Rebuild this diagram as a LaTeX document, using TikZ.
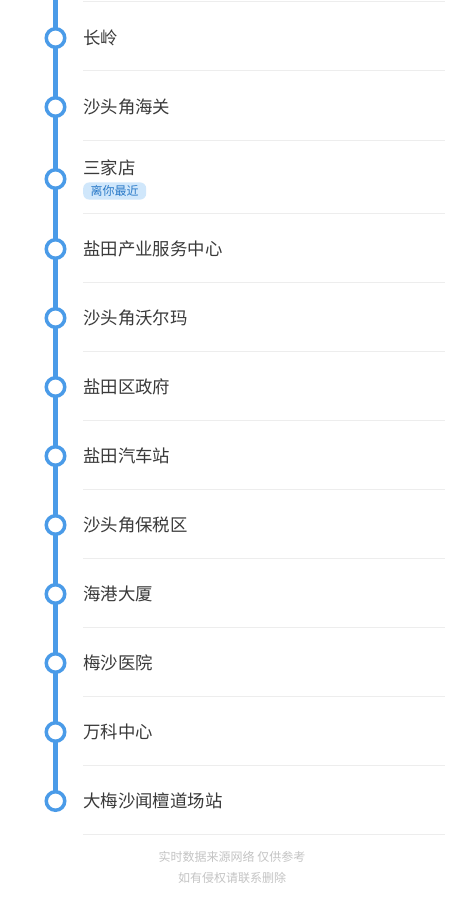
\documentclass[tikz,border=0pt]{standalone}
\usepackage{fontspec}
\newfontfamily\cjk{Noto Sans CJK SC}
\definecolor{lineblue}{HTML}{4A9BE8}
\definecolor{sepgray}{HTML}{EDEDED}
\definecolor{txtgray}{HTML}{3A3A3A}
\definecolor{badgebg}{HTML}{D0E7FB}
\definecolor{badgetxt}{HTML}{2A7AC8}
\definecolor{footgray}{HTML}{C4C4C4}
\begin{document}
\begin{tikzpicture}[x=1pt,y=-1pt,
  stopdot/.style={circle,draw=lineblue,line width=3.5pt,fill=white,minimum size=18.5pt,inner sep=0pt},
  stname/.style={anchor=west,inner sep=0pt,font=\cjk\fontsize{17.4}{17.4}\selectfont,text=txtgray},
  sepline/.style={draw=sepgray,line width=1pt},
  badgebox/.style={anchor=west,fill=badgebg,rounded corners=6pt,inner xsep=7.5pt,inner ysep=3pt,font=\cjk\fontsize{12}{12}\selectfont,text=badgetxt},
  foottext/.style={font=\cjk\fontsize{12}{12}\selectfont,text=footgray,inner sep=0pt}]
\useasboundingbox[fill=white] (0,0) rectangle (463,900);
\coordinate (top) at (55.5,0);
% separators
\foreach \y in {1,70,140,213,282,351,420,489,558,627,696,765,834}
  \draw[sepline] (83,\y) -- (445,\y);
\coordinate (s12) at (55.5,801);
\draw[lineblue,line width=4.5pt] (top) -- (s12);
% stops
\foreach \i/\y/\t in {1/38/长岭,2/107/沙头角海关,4/249/盐田产业服务中心,5/318/沙头角沃尔玛,6/387/盐田区政府,7/456/盐田汽车站,8/525/沙头角保税区,9/594/海港大厦,10/663/梅沙医院,11/732/万科中心,12/801/大梅沙闻檀道场站}{
  \node[stopdot] (c\i) at (55.5,\y) {};
  \node[stname] (t\i) at (83,\y) {\t};
}
\node[stopdot] (c3) at (55.5,179) {};
\node[stname] (t3) at (83,168) {三家店};
\node[badgebox] (b3) at (83,191) {离你最近};
% footer
\node[foottext] (f1) at (232,857) {实时数据来源网络 仅供参考};
\node[foottext] (f2) at (232,878) {如有侵权请联系删除};
\end{tikzpicture}
\end{document}
